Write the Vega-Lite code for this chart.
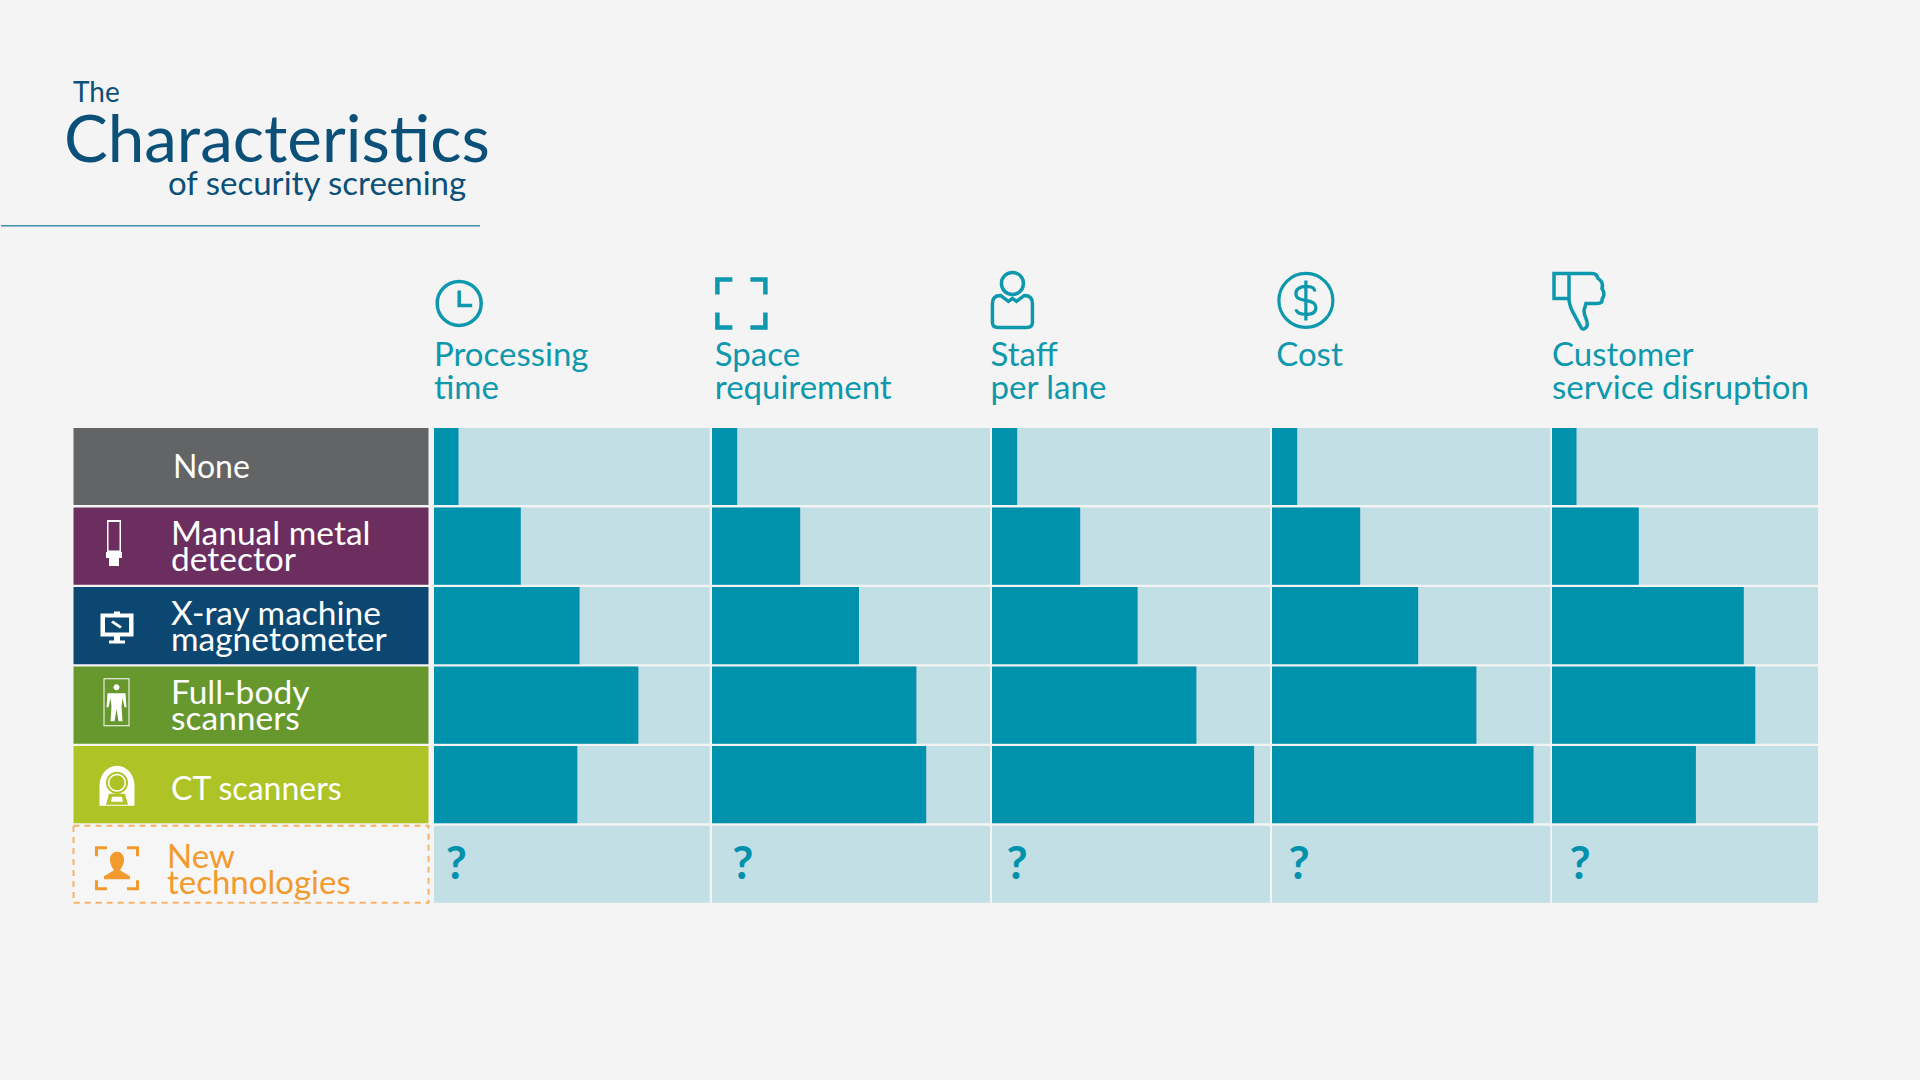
{"$schema":"https://vega.github.io/schema/vega-lite/v6.json","background":"#f4f4f4","padding":{"left":0,"top":29,"right":103,"bottom":176},"spacing":0,"bounds":"flush","config":{"view":{"stroke":null},"text":{"font":"Lato"}},
"datasets":{
"scores":[
{"col":"Processing time","row":"None","value":8.75},{"col":"Processing time","row":"Manual metal detector","value":31},{"col":"Processing time","row":"X-ray machine magnetometer","value":52},{"col":"Processing time","row":"Full-body scanners","value":73},{"col":"Processing time","row":"CT scanners","value":51.2},
{"col":"Space requirement","row":"None","value":9},{"col":"Space requirement","row":"Manual metal detector","value":31.5},{"col":"Space requirement","row":"X-ray machine magnetometer","value":52.5},{"col":"Space requirement","row":"Full-body scanners","value":73},{"col":"Space requirement","row":"CT scanners","value":76.5},
{"col":"Staff per lane","row":"None","value":9},{"col":"Staff per lane","row":"Manual metal detector","value":31.5},{"col":"Staff per lane","row":"X-ray machine magnetometer","value":52},{"col":"Staff per lane","row":"Full-body scanners","value":73},{"col":"Staff per lane","row":"CT scanners","value":93.6},
{"col":"Cost","row":"None","value":9},{"col":"Cost","row":"Manual metal detector","value":31.5},{"col":"Cost","row":"X-ray machine magnetometer","value":52.2},{"col":"Cost","row":"Full-body scanners","value":73},{"col":"Cost","row":"CT scanners","value":93.4},
{"col":"Customer service disruption","row":"None","value":8.75},{"col":"Customer service disruption","row":"Manual metal detector","value":31},{"col":"Customer service disruption","row":"X-ray machine magnetometer","value":68.5},{"col":"Customer service disruption","row":"Full-body scanners","value":72.6},{"col":"Customer service disruption","row":"CT scanners","value":51.4}],
"tracks":[{"row":"None"},{"row":"Manual metal detector"},{"row":"X-ray machine magnetometer"},{"row":"Full-body scanners"},{"row":"CT scanners"},{"row":"New technologies"}],
"techs":[{"row":"None","label":"None"},{"row":"Manual metal detector","label":"Manual metal\ndetector"},{"row":"X-ray machine magnetometer","label":"X-ray machine\nmagnetometer"},{"row":"Full-body scanners","label":"Full-body\nscanners"},{"row":"CT scanners","label":"CT scanners"},{"row":"New technologies","label":"New\ntechnologies"}]
},
"hconcat":[
{"width":433,"height":875,
"encoding":{"y":{"field":"row","type":"nominal","axis":null,"scale":{"domain":["t0","t1","t2","icon","label","None","Manual metal detector","X-ray machine magnetometer","Full-body scanners","CT scanners","New technologies"],"paddingInner":0.03,"paddingOuter":0.015}}},
"layer":[
{"data":{"values":[{"row":"t0","text":"The"}]},"mark":{"type":"text","align":"left","baseline":"middle","fontSize":28,"color":"#0b5078","dy":25},"encoding":{"x":{"datum":72,"scale":{"domain":[0,433]},"axis":null},"text":{"field":"text"}}},
{"data":{"values":[{"row":"t1","text":"Characteristics"}]},"mark":{"type":"text","align":"left","baseline":"middle","fontSize":65.5,"color":"#0b5078","dy":-6},"encoding":{"x":{"datum":63,"scale":{"domain":[0,433]},"axis":null},"text":{"field":"text"}}},
{"data":{"values":[{"row":"t1","text":"of security screening"}]},"mark":{"type":"text","align":"left","baseline":"middle","fontSize":33,"color":"#0b5078","dy":37},"encoding":{"x":{"datum":167,"scale":{"domain":[0,433]},"axis":null},"text":{"field":"text"}}},
{"data":{"values":[{"row":"t2"}]},"mark":{"type":"rule","color":"#3f8fa8","strokeWidth":1.5,"yOffset":-2},"encoding":{"x":{"datum":0,"scale":{"domain":[0,433]},"axis":null},"x2":{"datum":479}}},
{"data":{"name":"techs"},"transform":[{"filter":"datum.row !== 'New technologies'"}],"mark":{"type":"rect"},"encoding":{"x":{"datum":72.5,"scale":{"domain":[0,433]},"axis":null},"x2":{"datum":427.5},"color":{"field":"row","type":"nominal","legend":null,"scale":{"domain":["None","Manual metal detector","X-ray machine magnetometer","Full-body scanners","CT scanners"],"range":["#636466","#6b2e5e","#0c4772","#66982e","#adc326"]}}}},
{"data":{"name":"techs"},"transform":[{"filter":"datum.row === 'New technologies'"}],"mark":{"type":"rect","fill":"#f6f6f6","stroke":"#f7b26a","strokeWidth":2,"strokeDash":[6,5]},"encoding":{"x":{"datum":72.5,"scale":{"domain":[0,433]},"axis":null},"x2":{"datum":427.5}}},
{"data":{"name":"techs"},"transform":[{"filter":"datum.row === 'None'"}],"mark":{"type":"text","align":"left","baseline":"middle","fontSize":32,"color":"#ffffff","dy":1},"encoding":{"x":{"datum":172,"scale":{"domain":[0,433]},"axis":null},"text":{"field":"label"}}},
{"data":{"name":"techs"},"transform":[{"filter":"datum.row === 'CT scanners'"}],"mark":{"type":"text","align":"left","baseline":"middle","fontSize":32,"color":"#ffffff","dy":5},"encoding":{"x":{"datum":170,"scale":{"domain":[0,433]},"axis":null},"text":{"field":"label"}}},
{"data":{"name":"techs"},"transform":[{"filter":"datum.row === 'Manual metal detector' || datum.row === 'X-ray machine magnetometer' || datum.row === 'Full-body scanners'"}],"mark":{"type":"text","align":"left","baseline":"middle","fontSize":33.5,"lineHeight":26,"lineBreak":"\n","color":"#ffffff","dy":-11},"encoding":{"x":{"datum":170,"scale":{"domain":[0,433]},"axis":null},"text":{"field":"label"}}},
{"data":{"name":"techs"},"transform":[{"filter":"datum.row === 'New technologies'"}],"mark":{"type":"text","align":"left","baseline":"middle","fontSize":33,"lineHeight":26,"lineBreak":"\n","color":"#f39a2e","dy":-6},"encoding":{"x":{"datum":166,"scale":{"domain":[0,433]},"axis":null},"text":{"field":"label"}}},
{"data":{"name":"techs"},"transform":[{"filter":"datum.row !== 'None' && datum.row !== 'New technologies'"}],"mark":{"type":"point","filled":true,"size":4,"opacity":1,"color":"#ffffff"},"encoding":{"x":{"datum":115,"scale":{"domain":[0,433]},"axis":null},
"shape":{"field":"row","type":"nominal","legend":null,"scale":{"domain":["Manual metal detector","X-ray machine magnetometer","Full-body scanners","CT scanners","New technologies"],"range":[
"M-9,-26 H5 V6 H-9 Z M-7.5,-24 V4.5 H3.5 V-24 Z M-10,6 H6 V12 H3 V20 H-7 V12 H-10 Z",
"M-15.5,-12 H17.5 V11 H-15.5 Z M-11,-8 V7 H13 V-8 Z M-2,11 H4 V15 H9 V18 H-7 V15 H-2 Z M-5,-3 L4,3 L6,1 L-3,-5 Z M-2,-14 H4 V-12 H-2 Z",
"M-12.5,-27 H13.5 V21 H-12.5 Z M-11.5,-26 V20 H12.5 V-26 Z M-2.5,-18 A3,3 0 1 1 3.5,-18 A3,3 0 1 1 -2.5,-18 Z M-8.5,-12 L9.5,-12 L10.5,2 L8.5,2 L6.5,-7 L5.5,1 L6.5,16 L2.5,16 L0.5,4 L-1.5,16 L-5.5,16 L-4.5,1 L-5.5,-7 L-7.5,2 L-9.5,2 Z",
"M-16.5,21 L-16.5,1 A17.5,20 0 0 1 18.5,1 L18.5,21 Z M-10,-2 A11,11 0 0 0 12,-2 A11,11 0 0 0 -10,-2 Z M-8,-2 A9,9 0 0 1 10,-2 A9,9 0 0 1 -8,-2 Z M-6.5,-2 A7.5,7.5 0 0 0 8.5,-2 A7.5,7.5 0 0 0 -6.5,-2 Z M-10,20 L12,20 L9,9 L-7,9 Z M-5,17 H7 L6,12 H-4 Z",
"M-21,-18 H-9 V-15 H-18 V-8 H-21 Z M11,-18 H23 V-8 H20 V-15 H11 Z M20,16 V23 H11 V26 H23 V16 Z M-21,16 V26 H-9 V23 H-18 V16 Z M-6,-5 A7,7.5 0 0 1 8,-5 C8,1 5,4 4,6 L14,12 L14,15 L-12,15 L-12,12 L-2,6 C-3,4 -6,1 -6,-5 Z"]}}}},
{"data":{"name":"techs"},"transform":[{"filter":"datum.row === 'New technologies'"}],"mark":{"type":"point","filled":true,"size":4,"opacity":1,"color":"#f39a2e"},"encoding":{"x":{"datum":115,"scale":{"domain":[0,433]},"axis":null},
"shape":{"field":"row","type":"nominal","legend":null}}}
]},
{"width":278,"height":875,
"encoding":{"y":{"field":"row","type":"nominal","axis":null,"scale":{"domain":["t0","t1","t2","icon","label","None","Manual metal detector","X-ray machine magnetometer","Full-body scanners","CT scanners","New technologies"],"paddingInner":0.03,"paddingOuter":0.015}}},
"layer":[
{"data":{"name":"tracks"},"mark":{"type":"rect","color":"#c3dfe6"},"encoding":{"x":{"datum":98.5,"axis":null,"scale":{"domain":[0,99.3]}},"x2":{"datum":0}}},
{"data":{"name":"scores"},"transform":[{"filter":"datum.col === 'Processing time'"}],"mark":{"type":"rect","color":"#0091ad"},"encoding":{"x":{"field":"value","type":"quantitative","axis":null,"scale":{"domain":[0,99.3]}},"x2":{"datum":0}}},
{"data":{"values":[{"row":"New technologies","q":"?"}]},"mark":{"type":"text","fontSize":46,"fontWeight":"bold","color":"#0091ad","baseline":"middle","dy":1},"encoding":{"x":{"datum":8,"axis":null,"scale":{"domain":[0,99.3]}},"text":{"field":"q"}}},
{"data":{"values":[{"row":"icon"}]},"mark":{"type":"point","size":4,"filled":false,"stroke":"#0e98ad","strokeWidth":3.5,"yOffset":-4,"opacity":1,"shape":"M-22,0 A22,22 0 1 1 22,0 A22,22 0 1 1 -22,0 Z M0,-13 V2 H13"},"encoding":{"x":{"datum":9,"axis":null,"scale":{"domain":[0,99.3]}}}},
{"data":{"values":[{"row":"label","label":"Processing\ntime"}]},"mark":{"type":"text","align":"left","baseline":"top","fontSize":33,"lineHeight":33,"lineBreak":"\n","color":"#0e98ad","dy":-47},"encoding":{"x":{"datum":0,"axis":null,"scale":{"domain":[0,99.3]}},"text":{"field":"label"}}}
]},
{"width":280,"height":875,
"encoding":{"y":{"field":"row","type":"nominal","axis":null,"scale":{"domain":["t0","t1","t2","icon","label","None","Manual metal detector","X-ray machine magnetometer","Full-body scanners","CT scanners","New technologies"],"paddingInner":0.03,"paddingOuter":0.015}}},
"layer":[
{"data":{"name":"tracks"},"mark":{"type":"rect","color":"#c3dfe6"},"encoding":{"x":{"datum":99.3,"axis":null,"scale":{"domain":[0,100]}},"x2":{"datum":0}}},
{"data":{"name":"scores"},"transform":[{"filter":"datum.col === 'Space requirement'"}],"mark":{"type":"rect","color":"#0091ad"},"encoding":{"x":{"field":"value","type":"quantitative","axis":null,"scale":{"domain":[0,100]}},"x2":{"datum":0}}},
{"data":{"values":[{"row":"New technologies","q":"?"}]},"mark":{"type":"text","fontSize":46,"fontWeight":"bold","color":"#0091ad","baseline":"middle","dy":1},"encoding":{"x":{"datum":11,"axis":null,"scale":{"domain":[0,100]}},"text":{"field":"q"}}},
{"data":{"values":[{"row":"icon"}]},"mark":{"type":"point","size":4,"filled":false,"stroke":"#0e98ad","strokeWidth":4.5,"yOffset":-4,"opacity":1,"shape":"M-24,-9 V-24 H-9 M9,-24 H24 V-9 M24,9 V24 H9 M-9,24 H-24 V9"},"encoding":{"x":{"datum":10.5,"axis":null,"scale":{"domain":[0,100]}}}},
{"data":{"values":[{"row":"label","label":"Space\nrequirement"}]},"mark":{"type":"text","align":"left","baseline":"top","fontSize":33,"lineHeight":33,"lineBreak":"\n","color":"#0e98ad","dy":-47},"encoding":{"x":{"datum":1,"axis":null,"scale":{"domain":[0,100]}},"text":{"field":"label"}}}
]},
{"width":280,"height":875,
"encoding":{"y":{"field":"row","type":"nominal","axis":null,"scale":{"domain":["t0","t1","t2","icon","label","None","Manual metal detector","X-ray machine magnetometer","Full-body scanners","CT scanners","New technologies"],"paddingInner":0.03,"paddingOuter":0.015}}},
"layer":[
{"data":{"name":"tracks"},"mark":{"type":"rect","color":"#c3dfe6"},"encoding":{"x":{"datum":99.3,"axis":null,"scale":{"domain":[0,100]}},"x2":{"datum":0}}},
{"data":{"name":"scores"},"transform":[{"filter":"datum.col === 'Staff per lane'"}],"mark":{"type":"rect","color":"#0091ad"},"encoding":{"x":{"field":"value","type":"quantitative","axis":null,"scale":{"domain":[0,100]}},"x2":{"datum":0}}},
{"data":{"values":[{"row":"New technologies","q":"?"}]},"mark":{"type":"text","fontSize":46,"fontWeight":"bold","color":"#0091ad","baseline":"middle","dy":1},"encoding":{"x":{"datum":9,"axis":null,"scale":{"domain":[0,100]}},"text":{"field":"q"}}},
{"data":{"values":[{"row":"icon"}]},"mark":{"type":"point","size":4,"filled":false,"stroke":"#0e98ad","strokeWidth":3.5,"yOffset":-7,"opacity":1,"shape":"M-11,-17 A11,11 0 1 1 11,-17 A11,11 0 1 1 -11,-17 Z M-12,-5 L-4,1 L0,-2 L4,1 L12,-5 Q20,-5 20,3 V22 Q20,27 14,27 H-14 Q-20,27 -20,22 V3 Q-20,-5 -12,-5 Z"},"encoding":{"x":{"datum":7.3,"axis":null,"scale":{"domain":[0,100]}}}},
{"data":{"values":[{"row":"label","label":"Staff\nper lane"}]},"mark":{"type":"text","align":"left","baseline":"top","fontSize":33,"lineHeight":33,"lineBreak":"\n","color":"#0e98ad","dy":-47},"encoding":{"x":{"datum":-0.5,"axis":null,"scale":{"domain":[0,100]}},"text":{"field":"label"}}}
]},
{"width":280,"height":875,
"encoding":{"y":{"field":"row","type":"nominal","axis":null,"scale":{"domain":["t0","t1","t2","icon","label","None","Manual metal detector","X-ray machine magnetometer","Full-body scanners","CT scanners","New technologies"],"paddingInner":0.03,"paddingOuter":0.015}}},
"layer":[
{"data":{"name":"tracks"},"mark":{"type":"rect","color":"#c3dfe6"},"encoding":{"x":{"datum":99.4,"axis":null,"scale":{"domain":[0,100]}},"x2":{"datum":0}}},
{"data":{"name":"scores"},"transform":[{"filter":"datum.col === 'Cost'"}],"mark":{"type":"rect","color":"#0091ad"},"encoding":{"x":{"field":"value","type":"quantitative","axis":null,"scale":{"domain":[0,100]}},"x2":{"datum":0}}},
{"data":{"values":[{"row":"New technologies","q":"?"}]},"mark":{"type":"text","fontSize":46,"fontWeight":"bold","color":"#0091ad","baseline":"middle","dy":1},"encoding":{"x":{"datum":9.7,"axis":null,"scale":{"domain":[0,100]}},"text":{"field":"q"}}},
{"data":{"values":[{"row":"icon"}]},"mark":{"type":"point","size":4,"filled":false,"stroke":"#0e98ad","strokeWidth":3.2,"yOffset":-7,"opacity":1,"shape":"M-27,0 A27,27 0 1 1 27,0 A27,27 0 1 1 -27,0 Z M9,-9 C9,-13 5,-14 0,-14 C-6,-14 -10,-11 -10,-7 C-10,-2 -6,-1 0,0 C6,1 10,3 10,7 C10,12 6,14 0,14 C-5,14 -9,13 -10,9 M0,-20 V20"},"encoding":{"x":{"datum":12.1,"axis":null,"scale":{"domain":[0,100]}}}},
{"data":{"values":[{"row":"label","label":"Cost"}]},"mark":{"type":"text","align":"left","baseline":"top","fontSize":33,"color":"#0e98ad","dy":-47},"encoding":{"x":{"datum":1.5,"axis":null,"scale":{"domain":[0,100]}},"text":{"field":"label"}}}
]},
{"width":266,"height":875,
"encoding":{"y":{"field":"row","type":"nominal","axis":null,"scale":{"domain":["t0","t1","t2","icon","label","None","Manual metal detector","X-ray machine magnetometer","Full-body scanners","CT scanners","New technologies"],"paddingInner":0.03,"paddingOuter":0.015}}},
"layer":[
{"data":{"name":"tracks"},"mark":{"type":"rect","color":"#c3dfe6"},"encoding":{"x":{"datum":95,"axis":null,"scale":{"domain":[0,95]}},"x2":{"datum":0}}},
{"data":{"name":"scores"},"transform":[{"filter":"datum.col === 'Customer service disruption'"}],"mark":{"type":"rect","color":"#0091ad"},"encoding":{"x":{"field":"value","type":"quantitative","axis":null,"scale":{"domain":[0,95]}},"x2":{"datum":0}}},
{"data":{"values":[{"row":"New technologies","q":"?"}]},"mark":{"type":"text","fontSize":46,"fontWeight":"bold","color":"#0091ad","baseline":"middle","dy":1},"encoding":{"x":{"datum":10,"axis":null,"scale":{"domain":[0,95]}},"text":{"field":"q"}}},
{"data":{"values":[{"row":"icon"}]},"mark":{"type":"point","size":4,"filled":false,"stroke":"#0e98ad","strokeWidth":3.5,"yOffset":-7,"opacity":1,"shape":"M-26,-27 H-11 V-2 H-26 Z M-11,-27 H12 Q17,-27 18,-22 Q24,-18 22,-12 Q26,-6 22,-1 Q23,3 17,3 L6,3 L4,10 Q4,14 6,18 Q9,26 5,28 Q2,30 0,25 L-8,10 Q-11,3 -11,-2"},"encoding":{"x":{"datum":10,"axis":null,"scale":{"domain":[0,95]}}}},
{"data":{"values":[{"row":"label","label":"Customer\nservice disruption"}]},"mark":{"type":"text","align":"left","baseline":"top","fontSize":33,"lineHeight":33,"lineBreak":"\n","color":"#0e98ad","dy":-47},"encoding":{"x":{"datum":0,"axis":null,"scale":{"domain":[0,95]}},"text":{"field":"label"}}}
]}
]}
